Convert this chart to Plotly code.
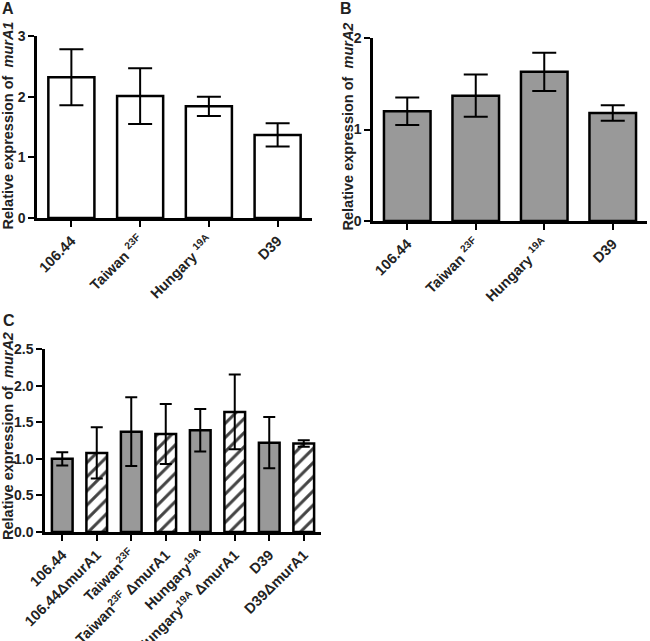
import plotly.graph_objects as go

W, H = 650, 641

# ---- data ----
cats_ab = ["106.44", "Taiwan <sup>23F</sup>", "Hungary <sup>19A</sup>", "D39"]
murA1_vals = [2.32, 2.01, 1.84, 1.37]
murA1_err = [0.46, 0.46, 0.16, 0.19]
murA2_vals = [1.20, 1.37, 1.63, 1.18]
murA2_err = [0.15, 0.23, 0.21, 0.085]

cats_c = ["106.44", "106.44\u0394murA1", "Taiwan<sup>23F</sup>", "Taiwan<sup>23F</sup> \u0394murA1",
          "Hungary<sup>19A</sup>", "Hungary<sup>19A</sup> \u0394murA1", "D39", "D39\u0394murA1"]
c_vals = [1.00, 1.08, 1.37, 1.34, 1.39, 1.64, 1.22, 1.21]
c_err = [0.09, 0.35, 0.47, 0.41, 0.29, 0.51, 0.35, 0.045]
c_hatched = [False, True, False, True, False, True, False, True]

yticks_a = [0, 1, 2, 3]
yticks_b = [0, 1, 2]
yticks_c = [0.0, 0.5, 1.0, 1.5, 2.0, 2.5]

GRAY = "#999999"
FONT = "Liberation Sans, Arial, sans-serif"
LW = 2.5


def px_x(p):
    return p / W


def px_y(p):
    return 1 - p / H


fig = go.Figure()

fig.add_trace(go.Bar(
    x=cats_ab, y=murA1_vals, xaxis="x", yaxis="y", width=0.67,
    marker=dict(color="white", line=dict(color="black", width=LW)),
    error_y=dict(type="data", array=murA1_err, color="black", thickness=2, width=12),
    showlegend=False, hoverinfo="skip"))

fig.add_trace(go.Bar(
    x=cats_ab, y=murA2_vals, xaxis="x2", yaxis="y2", width=0.68,
    marker=dict(color=GRAY, line=dict(color="black", width=LW)),
    error_y=dict(type="data", array=murA2_err, color="black", thickness=2, width=12),
    showlegend=False, hoverinfo="skip"))

fig.add_trace(go.Bar(
    x=cats_c, y=c_vals, xaxis="x3", yaxis="y3", width=0.6,
    marker=dict(
        color=["white" if h else GRAY for h in c_hatched],
        line=dict(color="black", width=LW),
        pattern=dict(shape=["/" if h else "" for h in c_hatched],
                     fgcolor="black", fgopacity=1,
                     bgcolor=["white" if h else GRAY for h in c_hatched],
                     size=10, solidity=0.3, fillmode="overlay")),
    error_y=dict(type="data", array=c_err, color="black", thickness=2, width=6),
    showlegend=False, hoverinfo="skip"))

tickfont = dict(family=FONT, size=14.5, color="#222", weight=700)
ytickfont = dict(family=FONT, size=14, color="#222", weight=700)

xcommon = dict(type="category", showline=True, linecolor="black", linewidth=LW,
               ticks="outside", ticklen=6, tickwidth=2, tickcolor="black",
               tickangle=-45, tickfont=tickfont, showgrid=False, zeroline=False,
               automargin=False, fixedrange=True)
ycommon = dict(showline=True, linecolor="black", linewidth=LW,
               ticks="outside", ticklen=6, tickwidth=2, tickcolor="black",
               tickfont=ytickfont, showgrid=False, zeroline=False,
               automargin=False, fixedrange=True)

fig.update_layout(
    width=W, height=H,
    margin=dict(l=0, r=0, t=0, b=0),
    paper_bgcolor="white", plot_bgcolor="white",
    bargap=0.3,
    xaxis=dict(**xcommon, domain=[px_x(37), px_x(312)], anchor="y", range=[-0.5, 3.5],
               categoryorder="array", categoryarray=cats_ab),
    yaxis=dict(**ycommon, domain=[px_y(218), px_y(36)], anchor="x", range=[0, 3],
               tickvals=yticks_a, ticktext=[str(v) for v in yticks_a]),
    xaxis2=dict(**xcommon, domain=[px_x(373), px_x(647)], anchor="y2", range=[-0.5, 3.5],
                categoryorder="array", categoryarray=cats_ab),
    yaxis2=dict(**ycommon, domain=[px_y(221), px_y(38)], anchor="x2", range=[0, 2],
                tickvals=yticks_b, ticktext=[str(v) for v in yticks_b]),
    xaxis3=dict(**xcommon, domain=[px_x(45), px_x(321)], anchor="y3", range=[-0.5, 7.5],
                categoryorder="array", categoryarray=cats_c),
    yaxis3=dict(**ycommon, domain=[px_y(532), px_y(349)], anchor="x3", range=[0, 2.5],
                tickvals=yticks_c, ticktext=[f"{v:.1f}" for v in yticks_c]),
)

annots = [
    dict(text="A", x=px_x(7.5), y=px_y(8.5), size=16),
    dict(text="B", x=px_x(346), y=px_y(8.5), size=16),
    dict(text="C", x=px_x(9), y=px_y(320), size=16),
]
for a in annots:
    fig.add_annotation(text=a["text"], x=a["x"], y=a["y"], xref="paper", yref="paper",
                       xanchor="center", yanchor="middle", showarrow=False,
                       font=dict(family=FONT, size=a["size"], color="#222", weight=700))

titles = [
    ("Relative expression of  <i>murA1</i>", 7.5, 126),
    ("Relative expression of  <i>murA2</i>", 347.5, 127),
    ("Relative expression of  <i>murA2</i>", 8, 436),
]
for t, xx, yy in titles:
    fig.add_annotation(text=t, x=px_x(xx), y=px_y(yy), xref="paper", yref="paper",
                       xanchor="center", yanchor="middle", showarrow=False, textangle=-90,
                       font=dict(family=FONT, size=14.5, color="#222", weight=700))

fig.write_html("out.html", post_script="document.body.style.margin='0';",
               config={"displayModeBar": False})
